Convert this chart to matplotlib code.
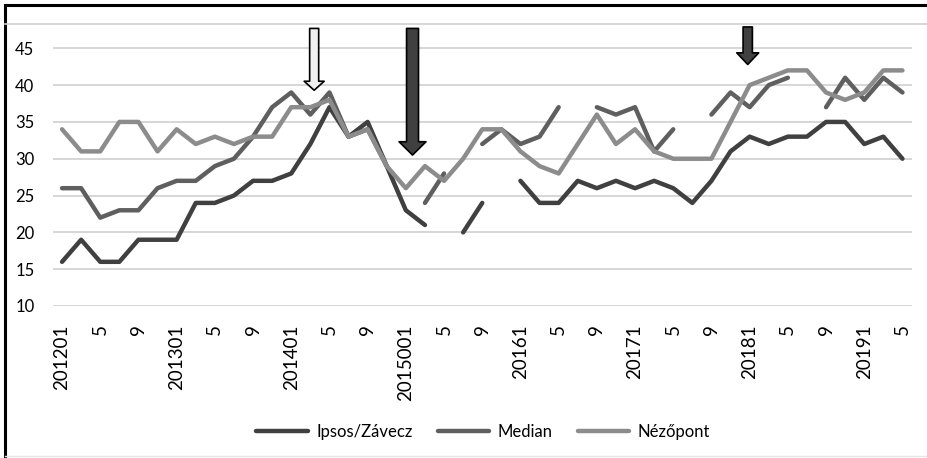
import numpy as np
import matplotlib
matplotlib.use('Agg')
from matplotlib import pyplot as plt
from matplotlib.lines import Line2D

nan = np.nan

# bimonthly polls, Jan 2012 - May 2019
tick_labels = ['201201', '5', '9', '201301', '5', '9', '201401', '5', '9',
               '2015001', '5', '9', '20161', '5', '9', '20171', '5', '9',
               '20181', '5', '9', '20191', '5']

ipsos = [16, 19, 16, 16, 19, 19, 19, 24, 24, 25, 27, 27, 28, 32, 37, 33, 35, 29, 23, 21,
         nan, 20, 24, nan, 27, 24, 24, 27, 26, 27, 26, 27, 26, 24, 27, 31, 33, 32, 33, 33,
         35, 35, 32, 33, 30]
median = [26, 26, 22, 23, 23, 26, 27, 27, 29, 30, 33, 37, 39, 36, 39, 33, 34, 29, nan, 24,
          28, nan, 32, 34, 32, 33, 37, nan, 37, 36, 37, 31, 34, nan, 36, 39, 37, 40, 41, nan,
          37, 41, 38, 41, 39]
nezopont = [34, 31, 31, 35, 35, 31, 34, 32, 33, 32, 33, 33, 37, 37, 38, 33, 34, 29, 26, 29,
            27, 30, 34, 34, 31, 29, 28, 32, 36, 32, 34, 31, 30, 30, 30, 35, 40, 41, 42, 42,
            39, 38, 39, 42, 42]

# arrows: x position (category), top value, tip value, fill
arrow_x = [13.2, 18.35, 35.9]
arrow_top = [47.7, 47.7, 47.9]
arrow_tip = [39.3, 30.5, 42.8]
arrow_fill = ['#f0f0f0', '#404040', '#404040']
arrow_size = [(6.5, 14.4, 6.5), (8.6, 19.4, 9.6), (6.7, 15.8, 8.4)]

plt.rcParams['font.family'] = ['Lato', 'DejaVu Sans']

W, H = 927, 458
fig = plt.figure(figsize=(W / 100, H / 100), dpi=100)
ax = fig.add_axes([52.5 / W, 1 - 306 / H, (912 - 52.5) / W, (306 - 24) / H])

x = np.arange(len(ipsos))
ax.plot(x, ipsos, color='#404040', lw=3.2, label='Ipsos/Závecz', solid_capstyle='round')
ax.plot(x, median, color='#5f5f5f', lw=3.2, label='Median', solid_capstyle='round')
ax.plot(x, nezopont, color='#8c8c8c', lw=3.2, label='Nézőpont', solid_capstyle='round')

for xa, yt, yb, fc, (tw, hw, hl) in zip(arrow_x, arrow_top, arrow_tip, arrow_fill, arrow_size):
    ax.annotate('', xy=(xa, yb), xytext=(xa, yt),
                arrowprops=dict(arrowstyle='simple,head_length=%g,head_width=%g,tail_width=%g' % (hl, hw, tw),
                                mutation_scale=1, fc=fc, ec='black', lw=1.2,
                                shrinkA=0, shrinkB=0),
                annotation_clip=False)

ax.set_xlim(-0.5, len(ipsos) - 0.5)
ax.set_ylim(10, 48.3)
ax.set_yticks(range(10, 50, 5))
ax.set_xticks(x[::2])
ax.set_xticklabels(tick_labels, rotation=90, fontsize=13.5)
ax.tick_params(axis='y', length=0, pad=13, labelsize=12)
ax.tick_params(axis='x', length=0, pad=13)
ax.grid(axis='y', color='#d0d0d0', lw=1.2)
ax.set_axisbelow(True)
for s in ax.spines.values():
    s.set_visible(False)

fig.legend(loc='center', bbox_to_anchor=(483 / W, 1 - 432 / H), ncol=3, frameon=False,
           fontsize=12, handlelength=3.1, handletextpad=0.5, columnspacing=1.5)

# chart frame
fig.add_artist(Line2D([5 / W, 5 / W], [0, 1 - 5 / H], color='black', lw=2.2))
fig.add_artist(Line2D([5 / W, 1], [1 - 5 / H, 1 - 5 / H], color='black', lw=2.2))
fig.add_artist(Line2D([5 / W, 1], [1 - 24 / H, 1 - 24 / H], color='#d0d0d0', lw=1.2))
fig.add_artist(Line2D([5 / W, 1], [1 - 456 / H, 1 - 456 / H], color='#e6e6e6', lw=1))

fig.savefig('out.png', dpi=100)
